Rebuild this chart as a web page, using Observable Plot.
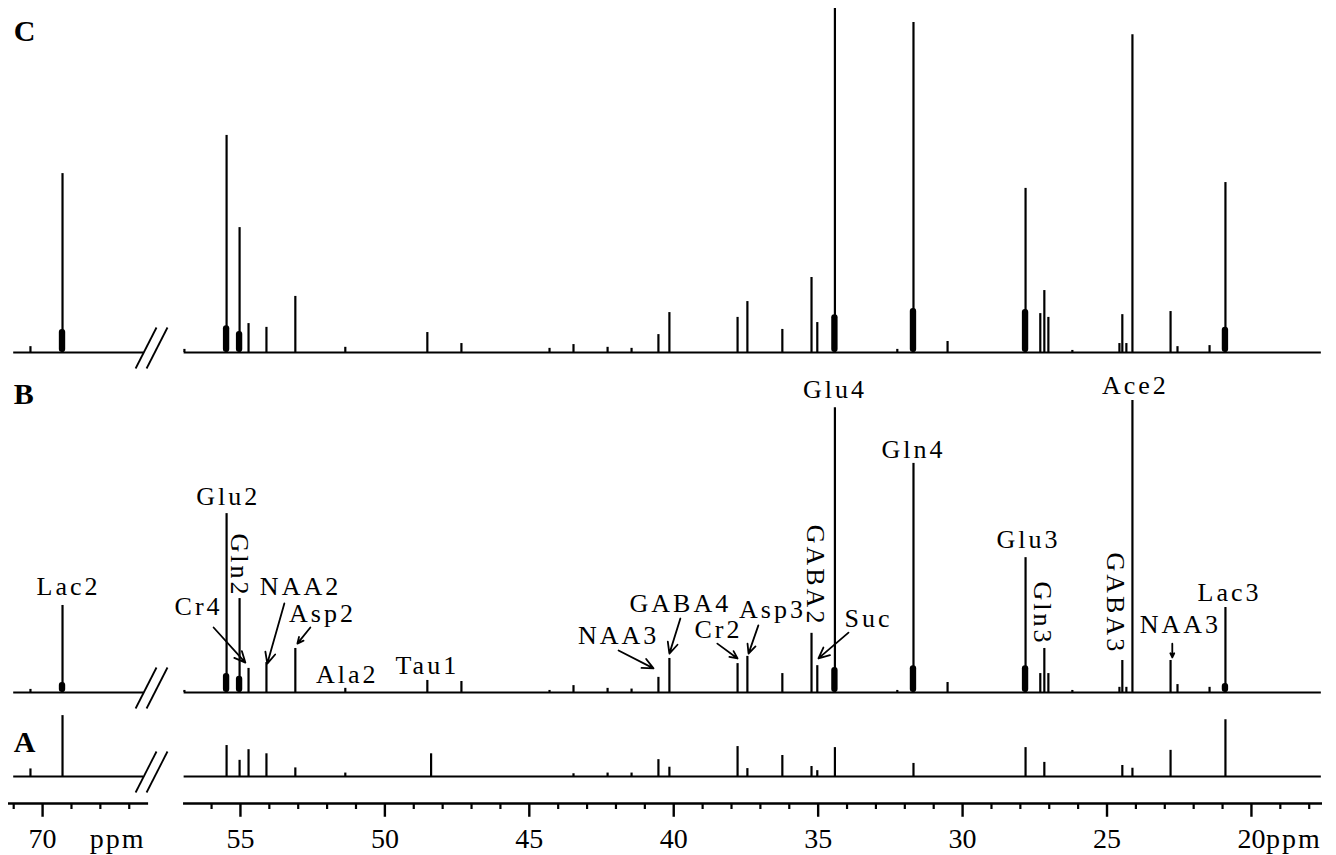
<!DOCTYPE html>
<html><head><meta charset="utf-8">
<script src="https://cdn.jsdelivr.net/npm/d3@7"></script>
<script src="https://cdn.jsdelivr.net/npm/@observablehq/plot@0.6"></script>
<style>
html,body{margin:0;padding:0;background:#fff;}
#chart svg text{letter-spacing:3px;}
#chart svg g.ticklabels text{letter-spacing:0;}
#chart svg g.units text{letter-spacing:2px;}
</style></head><body><div id="chart"></div>
<script>
// ---- data ----
const traceNames = ["A", "B", "C"];
const peakPpm = [70.42, 69.31, 56.94, 55.48, 55.03, 54.72, 54.10, 53.10, 51.37, 48.53,
  48.40, 47.35, 44.30, 43.47, 42.29, 41.46, 40.53, 40.15, 37.79, 37.45,
  36.24, 35.23, 35.03, 34.42, 32.26, 31.70, 30.52, 27.82, 27.31, 27.17,
  27.03, 26.20, 24.57, 24.47, 24.33, 24.12, 22.80, 22.56, 21.45, 20.90];
const heightC = [1.7, 52.0, 0.9, 63.1, 36.3, 8.4, 7.3, 16.3, 1.5, 5.8,
  0, 2.6, 1.2, 2.3, 1.5, 1.2, 5.2, 11.6, 10.2, 14.8,
  6.7, 21.8, 8.7, 100, 0.9, 95.9, 3.2, 47.7, 11.3, 18.0,
  10.2, 0.6, 2.6, 11.0, 2.6, 92.4, 11.9, 1.7, 2.0, 49.4];
const heightB = [0.9, 25.3, 0.6, 52.0, 27.3, 7.0, 8.7, 12.8, 1.2, 3.5,
  0, 3.2, 0.6, 2.0, 1.2, 1.0, 4.4, 9.9, 8.4, 10.5,
  5.5, 17.2, 7.8, 82.8, 0.6, 66.6, 2.9, 39.2, 5.5, 12.8,
  5.5, 0.6, 1.5, 9.3, 1.5, 84.9, 9.3, 2.3, 1.5, 24.7];
const heightA = [2.2, 17.7, 0, 9.0, 4.7, 7.8, 6.6, 2.5, 1.0, 0,
  6.6, 0, 0, 0.8, 1.0, 1.0, 4.9, 2.7, 8.7, 2.3,
  6.1, 2.9, 1.7, 8.4, 0, 3.8, 0, 8.4, 0, 4.1,
  0, 0, 0, 3.2, 0, 2.4, 7.6, 0, 0, 16.5];
// multiplet bases under the big peaks
const humpPpm = [69.31, 55.48, 55.03, 34.42, 31.70, 27.82, 20.90];
const humpC = [6.7, 7.8, 6.1, 11.0, 12.8, 12.5, 7.3];
const humpB = [2.9, 5.5, 4.7, 7.3, 7.8, 7.8, 2.6];
const humpA = [0, 0, 0, 0, 0, 0, 0];
// axis ticks
const majorTicks = [70, 55, 50, 45, 40, 35, 30, 25, 20];
const minorTicks = [71, 69, 68, 67, 56, 54, 53, 52, 51, 49, 48, 47, 46, 44, 43, 42, 41,
  39, 38, 37, 36, 34, 33, 32, 31, 29, 28, 27, 26, 24, 23, 22, 21, 19, 18];
// peak assignments (trace B)
const labelText = ["Lac2", "Glu2", "Gln2", "Cr4", "NAA2", "Asp2", "Ala2", "Tau1", "NAA3", "GABA4",
  "Cr2", "Asp3", "GABA2", "Suc", "Glu4", "Gln4", "Glu3", "Gln3", "GABA3", "Ace2", "NAA3", "Lac3"];
const labelPpm = [69.10, 55.42, 55.03, 56.45, 52.92, 52.16, 51.30, 48.53, 41.91, 39.77,
  38.45, 36.58, 35.09, 33.26, 34.42, 31.70, 27.72, 27.24, 24.71, 24.02, 22.46, 20.76];
const labelLevel = [28.2, 54.4, 36.9, 22.4, 28.2, 20.4, 2.9, 5.5, 14.2, 23.3,
  15.7, 21.8, 34.0, 18.9, 85.5, 68.3, 42.1, 23.0, 25.9, 86.9, 17.4, 26.7];
const labelVertical = ["Gln2", "GABA2", "Gln3", "GABA3"];
const arrowFromPpm = [55.93, 53.48, 52.58, 41.91, 39.77, 38.49, 37.07, 33.95, 22.74];
const arrowFromLevel = [18.9, 25.9, 18.9, 12.2, 21.5, 14.2, 19.5, 17.4, 14.2];
const arrowToPpm = [54.83, 54.07, 53.03, 40.70, 40.15, 37.79, 37.41, 34.99, 22.74];
const arrowToLevel = [8.7, 8.4, 14.2, 7.0, 11.3, 9.9, 11.3, 9.9, 10.2];

// ---- layout ----
const offsets = {A: 0, B: 24.42, C: 123.26};
const letterLevel = {A: 6.98, B: 108.43, C: 213.95};
const axisLevel = -7.85;
const majorLen = 4.0, minorLen = 1.75, labelDrop = 12.8;
const humpHalf = 0.11;
const segments = [[71.0, 66.5], [56.95, 17.58]];
const axisSegments = [[71.18, 66.33], [56.97, 17.54]];
// broken axis: the 66.33–56.97 ppm gap is squeezed to a short break
const breakHi = 66.33, breakLo = 56.97, breakWidth = 1.21;
const squeeze = p => p >= breakHi ? p - (breakHi - breakLo) + breakWidth
  : p <= breakLo ? p
  : breakLo + (p - breakLo) * breakWidth / (breakHi - breakLo);

const heights = {A: heightA, B: heightB, C: heightC};
const humps = {A: humpA, B: humpB, C: humpC};

const sticks = traceNames.flatMap(t => peakPpm.map((p, i) => ({t, ppm: p, base: offsets[t], top: offsets[t] + heights[t][i]}))
  .filter(d => d.top > d.base));
const bumps = traceNames.flatMap(t => humpPpm.map((p, i) => ({t, x1: p + humpHalf, x2: p - humpHalf, y1: offsets[t], y2: offsets[t] + humps[t][i]}))
  .filter(d => d.y2 > d.y1));
const baselines = traceNames.flatMap(t => segments.map(([a, b]) => ({t, x1: a, x2: b, y: offsets[t]})));
const slashes = traceNames.flatMap(t => [
  {x1: 66.78, x2: 64.21, y1: offsets[t] - 4.65, y2: offsets[t] + 7.27},
  {x1: 66.40, x2: 61.27, y1: offsets[t] - 4.65, y2: offsets[t] + 7.27}]);
const labels = labelText.map((s, i) => ({s, x: labelPpm[i], y: offsets.B + labelLevel[i], v: labelVertical.includes(s)}));
const arrows = arrowFromPpm.map((p, i) => ({x1: p, y1: offsets.B + arrowFromLevel[i], x2: arrowToPpm[i], y2: offsets.B + arrowToLevel[i]}));
const letters = traceNames.map(t => ({t, x: 71.0, y: letterLevel[t]}));
const axisLines = axisSegments.map(([a, b]) => ({x1: a, x2: b, y: axisLevel}));

const chart = Plot.plot({
  width: 1336,
  height: 855,
  marginTop: 0, marginLeft: 0, marginRight: 0, marginBottom: 0,
  style: {fontFamily: "'Liberation Serif', 'Times New Roman', serif", color: "black", background: "white", overflow: "visible"},
  x: {type: "linear", transform: squeeze, domain: [squeeze(71.18), squeeze(17.54)], range: [8, 1322], label: null, axis: null},
  y: {domain: [0, 100], range: [776, 432], axis: null, label: null},
  marks: [
    Plot.ruleY(baselines, {y: "y", x1: "x1", x2: "x2", stroke: "black", strokeWidth: 2.2}),
    Plot.rect(bumps, {x1: "x1", x2: "x2", y1: "y1", y2: "y2", fill: "black", rx: 3}),
    Plot.ruleX(sticks, {x: "ppm", y1: "base", y2: "top", stroke: "black", strokeWidth: 2.2}),
    Plot.link(slashes, {x1: "x1", y1: "y1", x2: "x2", y2: "y2", stroke: "black", strokeWidth: 1.8}),
    Plot.ruleY(axisLines, {y: "y", x1: "x1", x2: "x2", stroke: "black", strokeWidth: 2.4}),
    Plot.ruleX(majorTicks, {x: d => d, y1: axisLevel, y2: axisLevel - majorLen, stroke: "black", strokeWidth: 2.4}),
    Plot.ruleX(minorTicks, {x: d => d, y1: axisLevel, y2: axisLevel - minorLen, stroke: "black", strokeWidth: 2.2}),
    Plot.text(majorTicks, {x: d => d, y: axisLevel - labelDrop, text: d => String(d), lineAnchor: "bottom", fontSize: 28, className: "ticklabels"}),
    Plot.text(["ppm"], {x: 67.40, y: axisLevel - labelDrop, text: d => d, textAnchor: "middle", lineAnchor: "bottom", fontSize: 28, className: "units"}),
    Plot.text(["ppm"], {x: 19.50, y: axisLevel - labelDrop, text: d => d, textAnchor: "start", lineAnchor: "bottom", fontSize: 28, className: "units"}),
    Plot.text(labels.filter(d => !d.v), {x: "x", y: "y", text: "s", lineAnchor: "bottom", fontSize: 26}),
    Plot.text(labels.filter(d => d.v), {x: "x", y: "y", text: "s", rotate: 90, lineAnchor: "middle", fontSize: 26}),
    Plot.arrow(arrows, {x1: "x1", y1: "y1", x2: "x2", y2: "y2", stroke: "black", strokeWidth: 1.8, headLength: 10, headAngle: 50}),
    Plot.text(letters, {x: "x", y: "y", text: "t", textAnchor: "start", lineAnchor: "bottom", fontSize: 30, fontWeight: "bold"})
  ]
});
document.getElementById("chart").appendChild(chart);
</script></body></html>
